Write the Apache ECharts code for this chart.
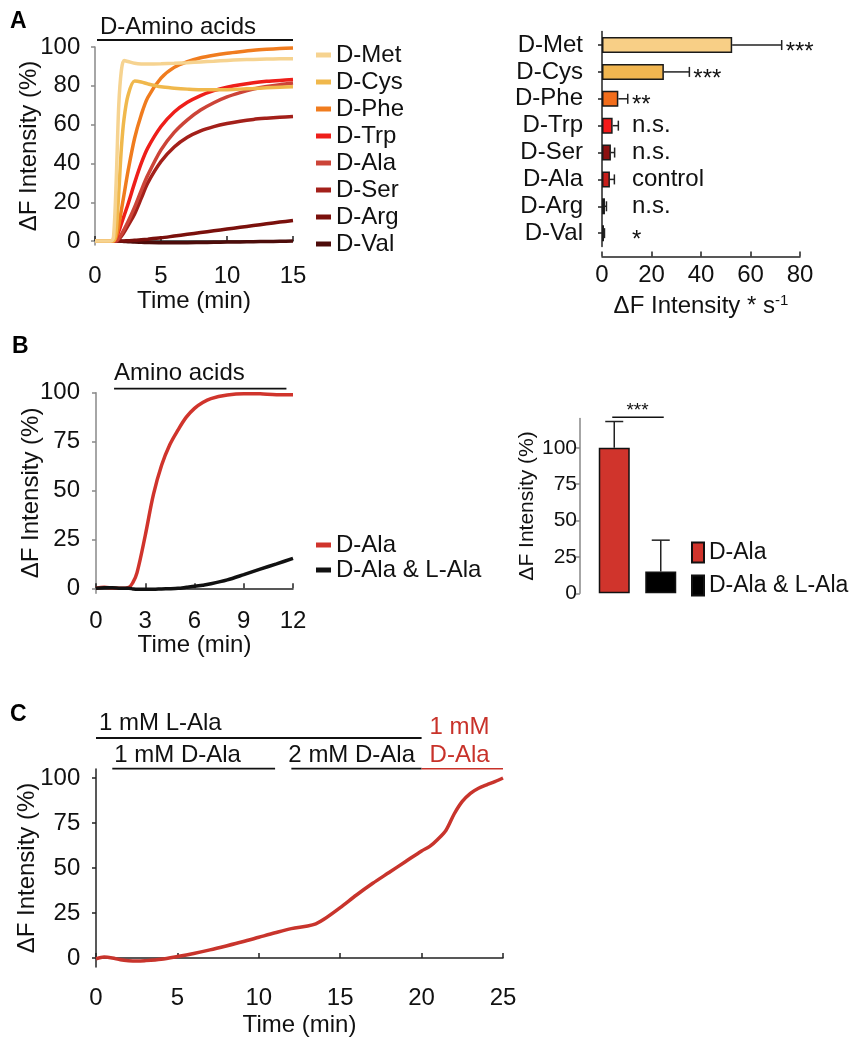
<!DOCTYPE html>
<html>
<head>
<meta charset="utf-8">
<script src="https://cdn.jsdelivr.net/npm/echarts@6/dist/echarts.min.js"></script>
<style>
html,body{margin:0;padding:0;background:#fff;}
#chart{width:852px;height:1050px;}
</style>
</head>
<body>
<div id="chart"></div>
<script>
// ---------- DATA ----------
// Panel A (left): time courses
const timeA = [0, 1.2, 1.4, 1.6, 1.8, 2.0, 2.2, 2.5, 3.0, 3.5, 4, 5, 6, 7, 8, 9, 10, 11, 12, 13, 14, 15];
const aMet = [0, 0, 2, 30, 70, 88, 93, 92.5, 91.6, 91.3, 91.3, 91.4, 91.6, 91.9, 92.3, 92.7, 93.1, 93.4, 93.6, 93.8, 93.9, 94];
const aCys = [0, 0, 0, 5, 25, 48, 63, 75, 82.5, 82, 81, 79.5, 78.8, 78.3, 78, 78, 78, 78.3, 78.6, 79, 79.3, 79.5];
const aPhe = [0, 0, 0, 2, 8, 16, 24, 36, 53, 65, 74, 84, 89.5, 92.5, 94.5, 95.8, 96.8, 97.6, 98.3, 98.8, 99.2, 99.5];
const aTrp = [0, 0, 0, 1.5, 5, 9, 13, 19, 30, 40, 48, 59, 66.5, 71.5, 75, 77.5, 79.3, 80.6, 81.6, 82.3, 82.8, 83.2];
const aAla = [0, 0, 0, 0, 1.5, 3.5, 6, 10, 17.5, 26, 34, 47, 56, 62.5, 67.5, 71.3, 74.3, 76.5, 78.3, 79.6, 80.6, 81.4];
const aSer = [0, 0, 0, 0, 1, 2.5, 4.5, 8, 14, 22, 30, 41, 48.5, 53.5, 56.8, 59, 60.6, 61.8, 62.7, 63.3, 63.8, 64.2];
const aArg = [0, 0, 0, 0, 0, 0, 0.1, 0.2, 0.4, 0.7, 1, 1.7, 2.6, 3.5, 4.4, 5.3, 6.2, 7.1, 8, 8.9, 9.8, 10.6];
const aVal = [0, 0, 0, 0, 0, -0.1, -0.2, -0.3, -0.5, -0.6, -0.7, -0.8, -0.8, -0.8, -0.7, -0.6, -0.5, -0.4, -0.3, -0.2, -0.1, 0];
const lineNamesA = ['D-Met', 'D-Cys', 'D-Phe', 'D-Trp', 'D-Ala', 'D-Ser', 'D-Arg', 'D-Val'];
const lineValsA = [aMet, aCys, aPhe, aTrp, aAla, aSer, aArg, aVal];
const lineColorsA = ['#f6d390', '#f0b84c', '#f07c1e', '#ee1f1a', '#cc4438', '#a3201a', '#7a100c', '#4d0c0a'];
const ticksA = [0, 20, 40, 60, 80, 100];

// Panel A (right): rates
const barCats = ['D-Met', 'D-Cys', 'D-Phe', 'D-Trp', 'D-Ser', 'D-Ala', 'D-Arg', 'D-Val'];
const barMeans = [52.6, 25.0, 6.6, 4.3, 3.6, 3.2, 1.2, 0.8];
const barSem = [20.0, 10.3, 3.8, 2.3, 1.5, 1.8, 0.6, 0.2];
const barSig = ['***', '***', '**', 'n.s.', 'n.s.', 'control', 'n.s.', '*'];
const barColors = ['#f8cf86', '#f1b650', '#f26d1b', '#f51a1a', '#8c1010', '#c81f1c', '#781815', '#2a0a08'];

// Panel B (left)
const timeB = [0, 0.5, 1, 1.5, 2, 2.25, 2.5, 3, 3.5, 4, 4.5, 5, 5.5, 6, 6.5, 7, 8, 9, 10, 11, 12];
const bDAla = [0, 0.5, 0.2, 0, 0.5, 3, 8, 27, 48, 63, 73.5, 81, 87.5, 92, 95, 97, 98.8, 99.5, 99.4, 99, 99];
const bDLAla = [0, 0.3, 0.3, 0, 0, -0.3, -0.5, -0.5, -0.5, -0.3, -0.2, 0, 0.5, 1, 1.6, 2.3, 4.3, 7, 9.8, 12.5, 15.3];
const ticksB = [0, 25, 50, 75, 100];

// Panel B (right)
const bCats = ['D-Ala', 'D-Ala & L-Ala'];
const bMeans = [100, 15];
const bSem = [18, 21.5];
const bSigText = '***';

// Panel C
const timeC = [0, 0.5, 1, 1.5, 2, 2.5, 3, 4, 5, 6, 7, 8, 9, 10, 11, 12, 13, 13.5, 14, 15, 16, 17, 18, 19, 20, 20.5, 21, 21.5, 22, 22.5, 23, 23.5, 24, 24.5, 25];
const cVals = [-0.5, 0.5, 0, -1, -1.5, -1.7, -1.5, -0.7, 0.8, 2.5, 4.5, 6.7, 9, 11.5, 14, 16.3, 17.8, 19, 21.5, 28, 35, 41.5, 47.5, 53.5, 59.5, 62, 66, 71, 80, 87, 91.5, 94.3, 96.2, 98, 100];

// Treatment annotations (time spans)
const annA = [{ text: 'D-Amino acids', from: 0, to: 15 }];
const annB = [{ text: 'Amino acids', from: 1.1, to: 11.6 }];
const annC = [
  { text: '1 mM L-Ala', from: 0, to: 20 },
  { text: '1 mM D-Ala', from: 1, to: 11 },
  { text: '2 mM D-Ala', from: 12, to: 20 },
  { text: '1 mM\nD-Ala', from: 20, to: 25 }
];

// ---------- CHART ----------
const FONT = '"Liberation Sans", Arial, Helvetica, sans-serif';
const TXT = '#111';
const chart = echarts.init(document.getElementById('chart'), null, { renderer: 'canvas' });

const tickFont = { fontFamily: FONT, fontSize: 24, color: TXT };
const nameFont = { fontFamily: FONT, fontSize: 24, color: TXT };

function valueX(grid, min, max, interval, offset, name, gap) {
  return {
    gridIndex: grid, type: 'value', min: min, max: max, interval: interval, offset: offset,
    name: name, nameLocation: 'middle', nameGap: gap, nameTextStyle: nameFont, nameMoveOverlap: false,
    axisLine: { show: true, lineStyle: { color: '#222', width: 1.5 } },
    axisTick: { show: true, inside: true, length: 5, lineStyle: { color: '#222', width: 1.5 } },
    axisLabel: Object.assign({ margin: 7 }, tickFont),
    splitLine: { show: false }
  };
}
function valueY(grid, min, max, ticks, offset, gap, color, fs) {
  const size = fs || 24;
  return {
    gridIndex: grid, type: 'value', min: min, max: max, offset: offset,
    name: 'ΔF Intensity (%)', nameLocation: 'middle', nameGap: gap, nameRotate: 90,
    nameTextStyle: Object.assign({}, nameFont, { fontSize: size }),
    nameMoveOverlap: false,
    axisLine: { show: true, lineStyle: { color: color, width: 1.5 } },
    axisTick: { show: true, length: 4, customValues: ticks, lineStyle: { color: color, width: 1.5 } },
    axisLabel: Object.assign({ margin: 3, customValues: ticks }, tickFont, { fontSize: size }),
    splitLine: { show: false }
  };
}

const series = [];
// Panel A left lines (darkest first so light ones sit on top)
for (let k = lineNamesA.length - 1; k >= 0; k--) {
  series.push({
    name: lineNamesA[k], type: 'line', xAxisIndex: 0, yAxisIndex: 0,
    data: timeA.map((t, i) => [t, lineValsA[k][i]]),
    showSymbol: false, smooth: 0.3, clip: false,
    color: lineColorsA[k],
    lineStyle: { width: 3.5, color: lineColorsA[k] },
    z: 10 + (lineNamesA.length - k)
  });
}
// Panel A right bars
series.push({
  name: 'rates', type: 'bar', xAxisIndex: 1, yAxisIndex: 1, barWidth: 16,
  data: barMeans.map((v, i) => ({ value: v, itemStyle: { color: barColors[i] } })),
  itemStyle: { borderColor: '#1a1a1a', borderWidth: 1.5 }
});
series.push({
  name: 'ratesErr', type: 'custom', xAxisIndex: 1, yAxisIndex: 1, z: 5,
  data: barMeans.map((v, i) => [i, v, v + barSem[i]]),
  encode: { x: [1, 2], y: 0 },
  renderItem: function (params, api) {
    const cat = api.value(0), mean = api.value(1), end = api.value(2);
    const p0 = api.coord([mean, cat]), p1 = api.coord([end, cat]);
    const txt = barSig[params.dataIndex];
    const lx = api.coord([Math.max(end, 10.5), cat])[0] + 4;
    return {
      type: 'group', children: [
        { type: 'line', shape: { x1: p0[0], y1: p0[1], x2: p1[0], y2: p1[1] }, style: { stroke: '#222', lineWidth: 1.5 } },
        { type: 'line', shape: { x1: p1[0], y1: p1[1] - 5, x2: p1[0], y2: p1[1] + 5 }, style: { stroke: '#222', lineWidth: 1.5 } },
        { type: 'text', x: lx, y: p1[1] + (txt.indexOf('*') >= 0 ? 7 : 0),
          style: { text: txt, fontFamily: FONT, fontSize: 24, fill: TXT, align: 'left', verticalAlign: 'middle' } }
      ]
    };
  }
});
// Panel B left lines
series.push({
  name: 'D-Ala|B', type: 'line', xAxisIndex: 2, yAxisIndex: 2,
  data: timeB.map((t, i) => [t, bDAla[i]]), showSymbol: false, smooth: 0.35, clip: false,
  color: '#d0342c', lineStyle: { width: 3.5, color: '#d0342c' }, z: 3
});
series.push({
  name: 'D-Ala & L-Ala|B', type: 'line', xAxisIndex: 2, yAxisIndex: 2,
  data: timeB.map((t, i) => [t, bDLAla[i]]), showSymbol: false, smooth: 0.3, clip: false,
  color: '#111', lineStyle: { width: 3.5, color: '#111' }, z: 4
});
// Panel B right bars
series.push({
  name: 'D-Ala|B2', type: 'bar', xAxisIndex: 3, yAxisIndex: 3, barWidth: 31, barGap: '-100%',
  data: [bMeans[0], '-'], color: '#d0342c',
  itemStyle: { color: '#d0342c', borderColor: '#111', borderWidth: 1.5 }
});
series.push({
  name: 'D-Ala & L-Ala|B2', type: 'bar', xAxisIndex: 3, yAxisIndex: 3, barWidth: 31, barGap: '-100%',
  data: ['-', bMeans[1]], color: '#000',
  itemStyle: { color: '#000', borderColor: '#111', borderWidth: 1.5 }
});
series.push({
  name: 'bErr', type: 'custom', xAxisIndex: 3, yAxisIndex: 3, z: 1,
  data: bMeans.map((v, i) => [i, v, v + bSem[i]]),
  encode: { x: 0, y: [1, 2] },
  renderItem: function (params, api) {
    const cat = api.value(0);
    const p0 = api.coord([cat, api.value(1)]), p1 = api.coord([cat, api.value(2)]);
    return {
      type: 'group', children: [
        { type: 'line', shape: { x1: p0[0], y1: p0[1], x2: p1[0], y2: p1[1] }, style: { stroke: '#222', lineWidth: 1.5 } },
        { type: 'line', shape: { x1: p1[0] - 9, y1: p1[1], x2: p1[0] + 9, y2: p1[1] }, style: { stroke: '#222', lineWidth: 1.5 } }
      ]
    };
  }
});
series.push({
  name: 'bSig', type: 'custom', xAxisIndex: 3, yAxisIndex: 3,
  data: [[0, 1, 121]],
  encode: { x: [0, 1], y: 2 },
  renderItem: function (params, api) {
    const a = api.coord([api.value(0), api.value(2)]), b = api.coord([api.value(1), api.value(2)]);
    return {
      type: 'group', children: [
        { type: 'line', shape: { x1: a[0] - 2, y1: a[1], x2: b[0] + 3, y2: b[1] }, style: { stroke: '#111', lineWidth: 1.5 } },
        { type: 'text', x: (a[0] + b[0]) / 2, y: a[1] + 3,
          style: { text: bSigText, fontFamily: FONT, fontSize: 19, fill: TXT, align: 'center', verticalAlign: 'bottom' } }
      ]
    };
  }
});
// Panel C line
series.push({
  name: 'C', type: 'line', xAxisIndex: 4, yAxisIndex: 4,
  data: timeC.map((t, i) => [t, cVals[i]]), showSymbol: false, smooth: 0.3, clip: false,
  color: '#c8342c', lineStyle: { width: 3.5, color: '#c8342c' }
});

const stripName = n => n.split('|')[0];

const option = {
  animation: false,
  backgroundColor: '#fff',
  textStyle: { fontFamily: FONT },
  grid: [
    { left: 95, top: 47, width: 198, height: 198 },
    { left: 602, top: 31.6, width: 198, height: 215 },
    { left: 96, top: 392.7, width: 197, height: 200.5 },
    { left: 591, top: 418.6, width: 93, height: 174.7 },
    { left: 96, top: 769, width: 407, height: 198 }
  ],
  xAxis: [
    valueX(0, 0, 15, 5, 12, 'Time (min)', 32),
    Object.assign(valueX(1, 0, 80, 20, 10, '{a|ΔF Intensity * s}{b|-1}', 37), {
      nameTextStyle: {
        rich: {
          a: { fontFamily: FONT, fontSize: 24, color: TXT, lineHeight: 26 },
          b: { fontFamily: FONT, fontSize: 15, color: TXT, verticalAlign: 'top', lineHeight: 26 }
        }
      }
    }),
    valueX(2, 0, 12, 3, 9.5, 'Time (min)', 31),
    {
      gridIndex: 3, type: 'category', data: bCats,
      axisLine: { show: false }, axisTick: { show: false }, axisLabel: { show: false }, splitLine: { show: false }
    },
    valueX(4, 0, 25, 5, 12, 'Time (min)', 34)
  ],
  yAxis: [
    valueY(0, -2, 100, ticksA, 11.7, 42, '#888'),
    {
      gridIndex: 1, type: 'category', data: barCats, inverse: true, offset: 12,
      axisLine: { show: true, lineStyle: { color: '#222', width: 1.5 } },
      axisTick: { show: true, alignWithLabel: true, length: 4, lineStyle: { color: '#222', width: 1.5 } },
      axisLabel: Object.assign({ margin: 7, interval: 0 }, tickFont, { fontSize: 24 }),
      splitLine: { show: false }
    },
    valueY(2, -2.5, 100, ticksB, 13, 40, '#888'),
    valueY(3, 0, 120, ticksB, 11, 42, '#888', 21),
    valueY(4, -5, 105, ticksB, 12.7, 44, '#222')
  ],
  legend: [
    {
      data: lineNamesA, orient: 'vertical', left: 316, top: 43, padding: 0, icon: 'rect',
      itemWidth: 15, itemHeight: 5, itemGap: 3, itemTextGap: 7, itemStyle: { borderWidth: 0 },
      textStyle: { fontFamily: FONT, fontSize: 24, color: TXT }, selectedMode: false
    },
    {
      data: ['D-Ala|B', 'D-Ala & L-Ala|B'], formatter: stripName, orient: 'vertical', left: 316, top: 533, padding: 0, icon: 'rect',
      itemWidth: 15, itemHeight: 5, itemGap: 1, itemTextGap: 7, itemStyle: { borderWidth: 0 },
      textStyle: { fontFamily: FONT, fontSize: 24, color: TXT }, selectedMode: false
    },
    {
      data: ['D-Ala|B2', 'D-Ala & L-Ala|B2'], formatter: stripName, orient: 'vertical', left: 691, top: 541, padding: 0, icon: 'rect',
      itemWidth: 12, itemHeight: 20, itemGap: 10, itemTextGap: 4,
      textStyle: { fontFamily: FONT, fontSize: 23, color: TXT }, selectedMode: false
    }
  ],
  series: series
};
chart.setOption(option);

// ---------- ANNOTATIONS (placed through the axes) ----------
function px(axis, t) { return chart.convertToPixel({ xAxisIndex: axis }, t); }
function py(axis, v) { return chart.convertToPixel({ yAxisIndex: axis }, v); }
const g = [];
function txt(x, y, s, opts) {
  g.push({ type: 'text', x: x, y: y, silent: true,
    style: Object.assign({ text: s, fontFamily: FONT, fontSize: 24, fill: TXT, align: 'left', verticalAlign: 'middle' }, opts || {}) });
}
function hline(x1, x2, y, color, w) {
  g.push({ type: 'line', silent: true, shape: { x1: x1, y1: y, x2: x2, y2: y }, style: { stroke: color, lineWidth: w } });
}
// panel letters
txt(10, 22, 'A', { fontWeight: 'bold', fontSize: 23, fill: '#000' });
txt(12, 347, 'B', { fontWeight: 'bold', fontSize: 23, fill: '#000' });
txt(10, 715, 'C', { fontWeight: 'bold', fontSize: 23, fill: '#000' });
// A
{
  const top = py(0, 100);
  annA.forEach(a => {
    hline(px(0, a.from) + 2, px(0, a.to), top - 7, '#111', 1.8);
    txt(px(0, a.from) + 5, top - 20, a.text);
  });
}
// B
{
  const top = py(2, 100);
  annB.forEach(a => {
    hline(px(2, a.from), px(2, a.to), top - 4, '#111', 1.8);
    txt(px(2, a.from), top - 19, a.text);
  });
}
// C
{
  const top = py(4, 100);
  const red = '#c8322a';
  const a0 = annC[0], a1 = annC[1], a2 = annC[2], a3 = annC[3];
  hline(px(4, a0.from), px(4, a0.to), top - 40, '#111', 1.8);
  txt(px(4, a0.from) + 3, top - 55, a0.text);
  hline(px(4, a1.from), px(4, a1.to), top - 9.3, '#111', 1.8);
  txt(px(4, a1.from) + 2, top - 23, a1.text);
  hline(px(4, a2.from), px(4, a2.to), top - 9.3, '#111', 1.8);
  txt(px(4, a2.from) - 3, top - 23, a2.text);
  hline(px(4, a3.from), px(4, a3.to), top - 9.3, red, 1.5);
  txt(px(4, a3.from) + 8, top - 37, a3.text, { fill: red, lineHeight: 28 });
}
chart.setOption({ graphic: g });
</script>
</body>
</html>
